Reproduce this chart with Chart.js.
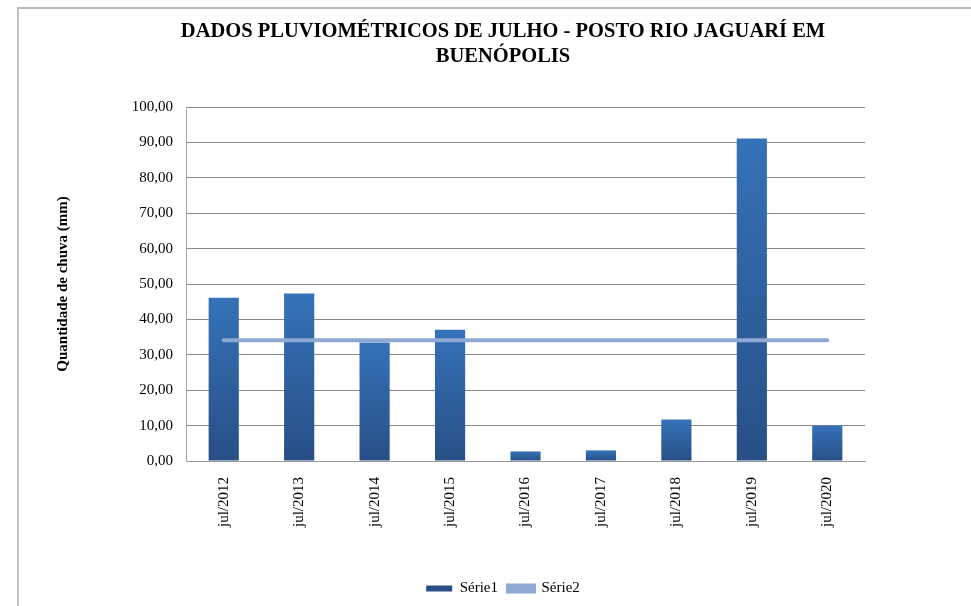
<!DOCTYPE html>
<html>
<head>
<meta charset="utf-8">
<script src="https://cdn.jsdelivr.net/npm/chart.js@4.4.0/dist/chart.umd.min.js"></script>
<style>
  html, body { margin: 0; padding: 0; background: #fff; }
  #wrap { position: absolute; left: 0; top: 0; width: 971px; height: 606px; }
  #frame { position: absolute; left: 17px; top: 7px; width: 960px; height: 610px;
           border-left: 2px solid #c4c4c4; border-top: 2px solid #b8b8b8; }
</style>
</head>
<body>
<div id="wrap">
  <div id="frame"></div>
  <canvas id="myChart1" width="971" height="606"></canvas>
</div>
<script>
const labels = ['jul/2012', 'jul/2013', 'jul/2014', 'jul/2015', 'jul/2016', 'jul/2017', 'jul/2018', 'jul/2019', 'jul/2020'];
const serie1 = [46.1, 47.3, 33.5, 37.1, 2.7, 3.0, 11.7, 91.1, 10.0];
const serie2 = [34.1, 34.1, 34.1, 34.1, 34.1, 34.1, 34.1, 34.1, 34.1];
const yTicks = [0, 10, 20, 30, 40, 50, 60, 70, 80, 90, 100];

const ctx = document.getElementById('myChart1');
const serif = "'Liberation Serif', 'Times New Roman', serif";

// gradient per bar, light at the top, dark at the base
function barFill(c) {
  const chart = c.chart;
  if (!chart.chartArea || c.type !== 'data') return '#2f5f9e';
  const y = chart.scales.y;
  const top = y.getPixelForValue(c.raw);
  const bottom = y.getPixelForValue(0);
  const g = chart.ctx.createLinearGradient(0, top, 0, bottom);
  g.addColorStop(0, '#3572b8');
  g.addColorStop(1, '#284f86');
  return g;
}

Chart.defaults.font.family = serif;
Chart.defaults.color = '#000';

new Chart(ctx, {
  type: 'bar',
  data: {
    labels: labels,
    datasets: [{
      label: 'Série1',
      data: serie1,
      backgroundColor: barFill,
      borderWidth: 0,
      categoryPercentage: 1,
      barPercentage: 0.4,
      order: 2
    }, {
      type: 'line',
      label: 'Série2',
      data: serie2,
      borderColor: '#8eaad4',
      backgroundColor: '#8eaad4',
      borderWidth: 4,
      borderCapStyle: 'round',
      pointRadius: 0,
      order: 1
    }]
  },
  options: {
    responsive: false,
    animation: false,
    layout: { padding: { left: 50, right: 15, top: 8, bottom: 0 } },
    plugins: {
      title: {
        display: true,
        text: ['DADOS PLUVIOMÉTRICOS DE JULHO - POSTO RIO JAGUARÍ EM', 'BUENÓPOLIS'],
        font: { family: serif, size: 20.5, weight: 'bold', lineHeight: 1.22 },
        color: '#000',
        padding: { top: 11, bottom: 38 }
      },
      legend: {
        position: 'bottom',
        labels: {
          boxWidth: 26,
          boxHeight: 6,
          padding: 10,
          font: { family: serif, size: 15 },
          color: '#000',
          sort: (a, b) => a.datasetIndex - b.datasetIndex
        }
      },
      tooltip: { enabled: false }
    },
    scales: {
      x: {
        grid: { display: false },
        border: { display: true, color: '#9a9a9a' },
        ticks: { minRotation: 90, maxRotation: 90, padding: 8, font: { family: serif, size: 15 } },
        afterFit: s => { s.height = 110; }
      },
      y: {
        min: 0,
        max: 100,
        afterBuildTicks: s => { s.ticks = yTicks.map(v => ({ value: v })); },
        grid: { color: '#8a8a8a', drawTicks: false },
        border: { display: true, color: '#a8a8a8' },
        ticks: {
          padding: 13,
          font: { family: serif, size: 15 },
          callback: v => v.toFixed(2).replace('.', ',')
        },
        title: {
          display: true,
          text: 'Quantidade de chuva (mm)',
          font: { family: serif, size: 15, weight: 'bold' },
          color: '#000'
        },
        afterFit: s => { s.width = 136; }
      },
      yR: {
        position: 'right',
        display: true,
        grid: { display: false, drawTicks: false },
        border: { display: false },
        ticks: { display: false },
        afterFit: s => { s.width = 91; }
      }
    }
  }
});
</script>
</body>
</html>
